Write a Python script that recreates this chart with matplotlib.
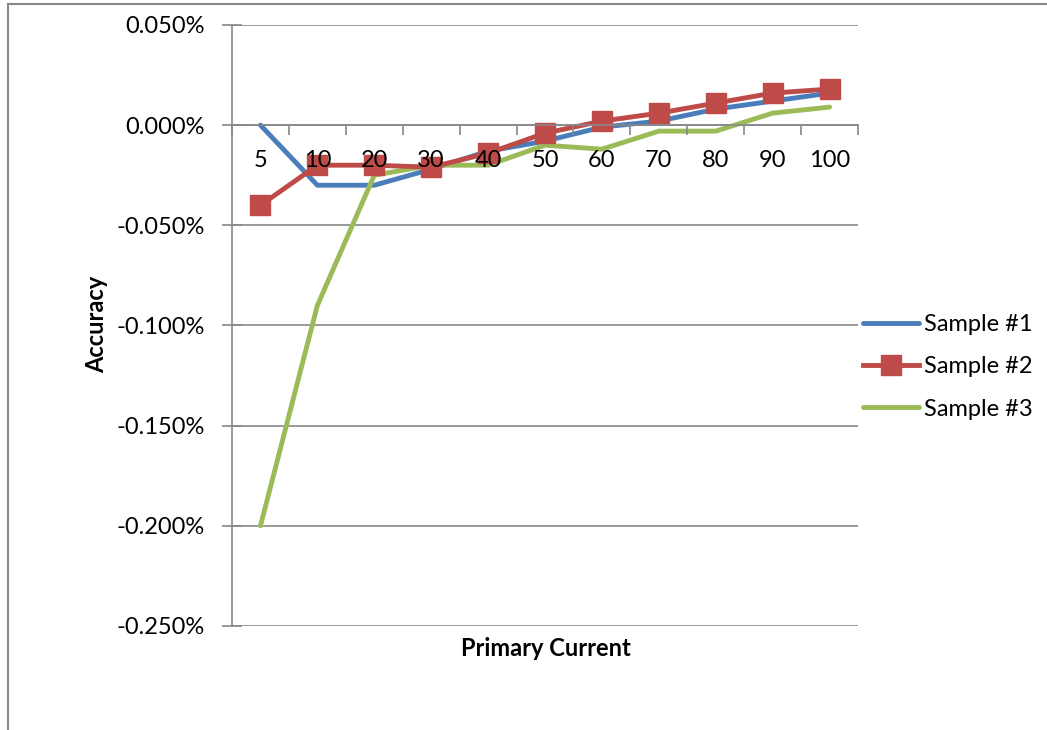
import matplotlib
matplotlib.use('Agg')
import matplotlib.pyplot as plt
from matplotlib.lines import Line2D
from matplotlib.ticker import FixedLocator, FuncFormatter

plt.rcParams['font.family'] = ['Lato', 'DejaVu Sans']

# primary current (% of rated) and ratio error (%)
currents = ['5', '10', '20', '30', '40', '50', '60', '70', '80', '90', '100']
sample1 = [0.000, -0.030, -0.030, -0.022, -0.013, -0.008, -0.001, 0.002, 0.008, 0.012, 0.016]
sample2 = [-0.040, -0.020, -0.020, -0.021, -0.014, -0.004, 0.002, 0.006, 0.011, 0.016, 0.018]
sample3 = [-0.200, -0.090, -0.025, -0.020, -0.020, -0.010, -0.012, -0.003, -0.003, 0.006, 0.009]

y_ticks = [0.05, 0.0, -0.05, -0.10, -0.15, -0.20, -0.25]

fig = plt.figure(figsize=(10.47, 7.30), dpi=100)
ax = fig.add_axes([0.2216, 0.1425, 0.5979, 0.8233])
# tick labels are drawn over the data lines
ax.set_axisbelow(False)

x = list(range(len(currents)))
grid_col = '#888888'
fs = 17

ax.plot(x, sample1, color='#4A7EBB', lw=3.5, label='Sample #1', solid_capstyle='round', zorder=2)
ax.plot(x, sample2, color='#BE4B48', lw=3.5, marker='s', ms=14, label='Sample #2', zorder=2.2)
ax.plot(x, sample3, color='#9BBB59', lw=3.5, label='Sample #3', solid_capstyle='round', zorder=2.1)

ax.set_xlim(-0.5, len(currents) - 0.5)
ax.set_ylim(-0.25, 0.05)

# horizontal gridlines
for v in y_ticks:
    ax.axhline(v, color=grid_col, lw=1.2, zorder=1)

ax.spines['top'].set_visible(False)
ax.spines['right'].set_visible(False)
ax.spines['left'].set_color(grid_col)
ax.spines['left'].set_linewidth(1.2)
ax.spines['bottom'].set_position(('data', 0))
ax.spines['bottom'].set_color(grid_col)
ax.spines['bottom'].set_linewidth(1.2)

# y axis: percent labels, ticks crossing the axis
ax.yaxis.set_major_locator(FixedLocator(y_ticks))
ax.yaxis.set_major_formatter(FuncFormatter(lambda v, p: f'{v:.3f}%'))
ax.tick_params(axis='y', direction='inout', length=15, width=1.2, color=grid_col,
               labelsize=fs, pad=12)

# x axis: labels at category centres, tick marks between categories
ax.set_xticks(x)
ax.set_xticklabels(currents)
ax.set_xticks([i - 0.5 for i in range(len(currents) + 1)], minor=True)
ax.tick_params(axis='x', which='major', length=0, labelsize=fs, pad=18)
ax.tick_params(axis='x', which='minor', direction='out', length=7, width=1.2, color=grid_col)

fig.text(0.0926, 0.555, 'Accuracy', rotation=90, fontsize=fs, fontweight='bold',
         ha='center', va='center')
fig.text(0.521, 0.112, 'Primary Current', fontsize=fs, fontweight='bold',
         ha='center', va='center')

ax.legend(loc='center left', bbox_to_anchor=(1.0, 0.431), frameon=False, fontsize=fs,
          handlelength=2.4, handletextpad=0.2, labelspacing=0.9, borderpad=0,
          borderaxespad=0.2)

# chart frame
fig.add_artist(Line2D([8 / 1047, 8 / 1047], [0, 1 - 4 / 730], color='#888888', lw=1.5))
fig.add_artist(Line2D([8 / 1047, 1], [1 - 4 / 730, 1 - 4 / 730], color='#888888', lw=1.5))

fig.savefig('out.png', dpi=100, facecolor='white')
